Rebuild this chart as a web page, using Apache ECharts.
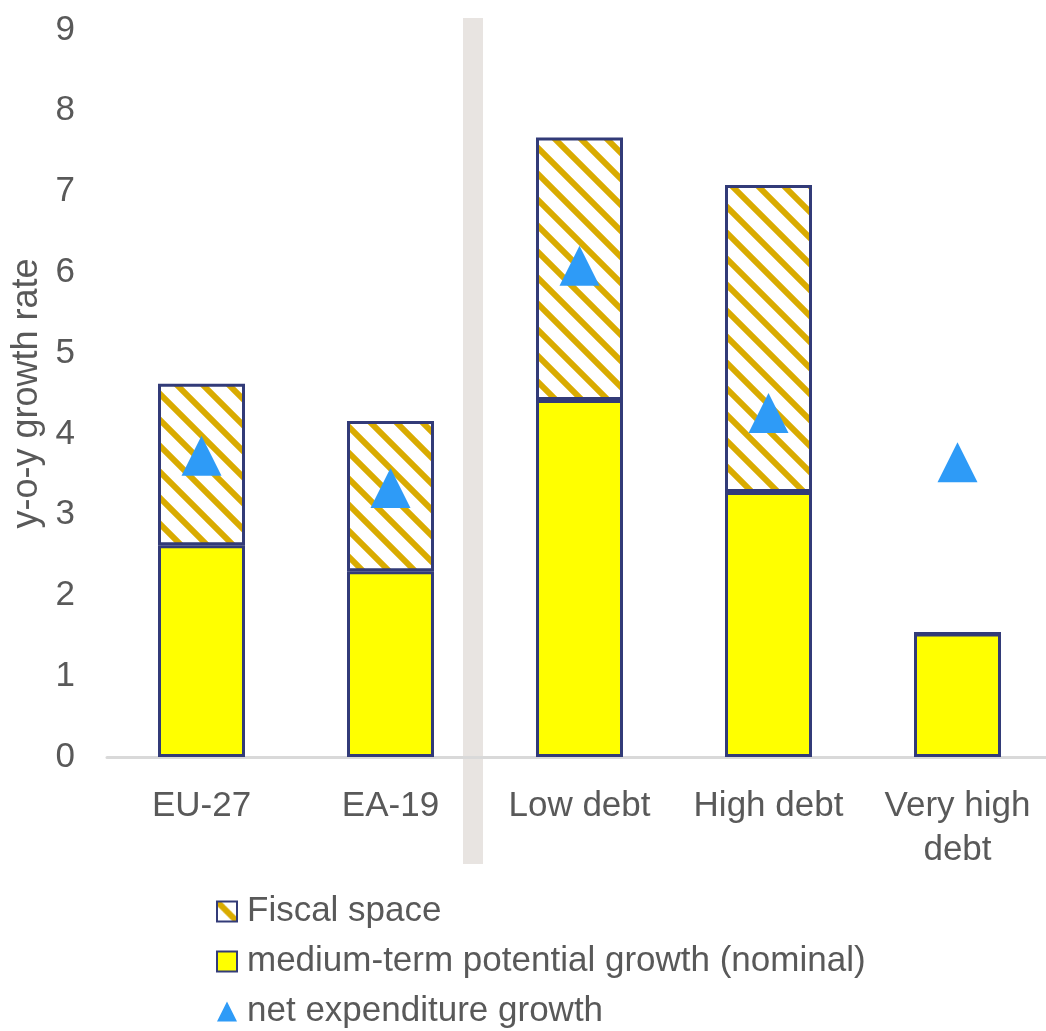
<!DOCTYPE html>
<html style="height: 100%">
<head>
<meta charset="utf-8">
</head>
<body style="height: 100%; margin: 0; background: #fff">
<div id="container" style="width: 1046px; height: 1031px"></div>
<script src="https://cdn.jsdelivr.net/npm/echarts@6/dist/echarts.min.js"></script>
<script>
var categories = ['EU-27', 'EA-19', 'Low debt', 'High debt', 'Very high\ndebt'];
var potentialGrowth = [2.62, 2.3, 4.42, 3.28, 1.53];
var fiscalSpace = [2.0, 1.86, 3.25, 3.8, 0];
var netExpGrowth = [3.73, 3.33, 6.08, 4.26, 3.65];
var yTicks = [0, 9, 1];

// diagonal gold hatch
function hatch() {
    var c = document.createElement('canvas');
    var s = 26;
    c.width = s; c.height = s;
    var ctx = c.getContext('2d');
    ctx.fillStyle = '#ffffff';
    ctx.fillRect(0, 0, s, s);
    ctx.strokeStyle = '#d9ab00';
    ctx.lineWidth = 6;
    ctx.beginPath();
    ctx.moveTo(-s, -s); ctx.lineTo(2 * s, 2 * s);
    ctx.moveTo(-s, 0); ctx.lineTo(s, 2 * s);
    ctx.moveTo(0, -s); ctx.lineTo(2 * s, s);
    ctx.stroke();
    return c;
}

var font = 'Liberation Sans, Arial, sans-serif';
var navy = '#323b78';
var grey = '#595959';
var myChart = echarts.init(document.getElementById('container'));
var option = {
    animation: false,
    textStyle: { fontFamily: font },
    graphic: [{
        type: 'rect', z: 0,
        shape: { x: 463, y: 18, width: 20, height: 846 },
        style: { fill: '#e8e4e1' }
    }],
    grid: { left: 107, right: -6, top: 30, bottom: 274, outerBoundsMode: 'none', containLabel: false },
    legend: {
        orient: 'vertical', left: 216, top: 894, padding: 0,
        itemWidth: 20, itemHeight: 20, itemGap: 15,
        textStyle: { fontSize: 35, lineHeight: 35, color: grey, fontFamily: font, padding: [0, 0, 0, 5] },
        data: [
            { name: 'Fiscal space', icon: 'rect' },
            { name: 'medium-term potential growth (nominal)', icon: 'rect' },
            { name: 'net expenditure growth', icon: 'triangle' }
        ]
    },
    xAxis: {
        type: 'category', data: categories,
        axisLine: { lineStyle: { color: '#d9d9d9', width: 3 } },
        axisTick: { show: false },
        axisLabel: { interval: 0, hideOverlap: false, fontSize: 35, color: grey, margin: 27, lineHeight: 44 }
    },
    yAxis: {
        type: 'value', min: yTicks[0], max: yTicks[1], interval: yTicks[2],
        name: 'y-o-y growth rate', nameLocation: 'middle', nameGap: 58,
        nameTextStyle: { fontSize: 36, color: grey },
        splitLine: { show: false },
        axisLine: { show: false },
        axisLabel: { fontSize: 35, color: grey, margin: 32 }
    },
    series: [{
        name: 'medium-term potential growth (nominal)', type: 'bar', stack: 'g',
        barWidth: 87, z: 3,
        itemStyle: { color: '#ffff00', borderColor: navy, borderWidth: 3 },
        data: potentialGrowth
    }, {
        name: 'Fiscal space', type: 'bar', stack: 'g', z: 3,
        itemStyle: { color: { image: hatch(), repeat: 'repeat' }, borderColor: navy, borderWidth: 3 },
        data: fiscalSpace
    }, {
        name: 'net expenditure growth', type: 'scatter', z: 5,
        symbol: 'triangle', symbolSize: [40, 40],
        itemStyle: { color: '#2e9bf7', opacity: 1 },
        data: netExpGrowth
    }]
};
myChart.setOption(option);
</script>
</body>
</html>
